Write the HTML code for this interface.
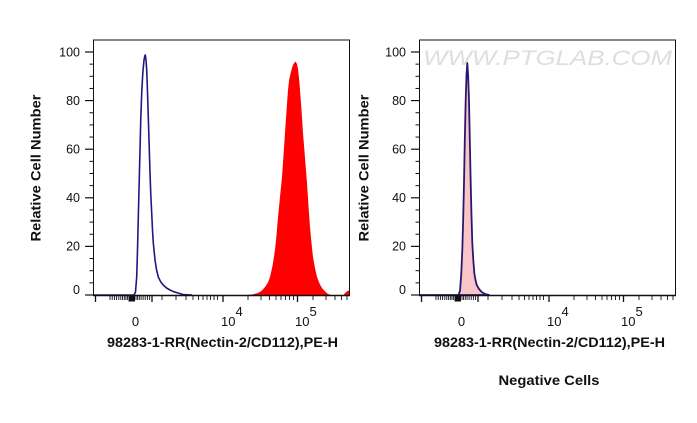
<!DOCTYPE html>
<html>
<head>
<meta charset="utf-8">
<style>
  html,body{margin:0;padding:0;background:#fff;}
  svg{display:block;}
  text{font-family:"Liberation Sans",Arial,sans-serif;fill:#111;}
  .tl{font-size:12.5px;}
  .xl{font-size:13px;}
  .ttl{font-size:14px;font-weight:bold;}
</style>
</head>
<body>
<svg width="697" height="423" viewBox="0 0 697 423" xmlns="http://www.w3.org/2000/svg">
  <rect x="0" y="0" width="697" height="423" fill="#fff"/>
  <defs>
    <g id="axes">
      <rect x="93.5" y="40" width="256" height="255.5" fill="none" stroke="#111" stroke-width="1"/>
      <line x1="93" y1="295.5" x2="350" y2="295.5" stroke="#111" stroke-width="1.6"/>
      <g stroke="#111" stroke-width="1.2">
        <line x1="85" y1="52" x2="93.5" y2="52"/>
        <line x1="85" y1="100.6" x2="93.5" y2="100.6"/>
        <line x1="85" y1="149.2" x2="93.5" y2="149.2"/>
        <line x1="85" y1="197.8" x2="93.5" y2="197.8"/>
        <line x1="85" y1="246.4" x2="93.5" y2="246.4"/>
        <line x1="85" y1="295" x2="93.5" y2="295"/>
      </g>
      <g stroke="#111" stroke-width="1">
        <line x1="89.5" y1="64.15" x2="93.5" y2="64.15"/>
        <line x1="89.5" y1="76.3" x2="93.5" y2="76.3"/>
        <line x1="89.5" y1="88.45" x2="93.5" y2="88.45"/>
        <line x1="89.5" y1="112.75" x2="93.5" y2="112.75"/>
        <line x1="89.5" y1="124.9" x2="93.5" y2="124.9"/>
        <line x1="89.5" y1="137.05" x2="93.5" y2="137.05"/>
        <line x1="89.5" y1="161.35" x2="93.5" y2="161.35"/>
        <line x1="89.5" y1="173.5" x2="93.5" y2="173.5"/>
        <line x1="89.5" y1="185.65" x2="93.5" y2="185.65"/>
        <line x1="89.5" y1="209.95" x2="93.5" y2="209.95"/>
        <line x1="89.5" y1="222.1" x2="93.5" y2="222.1"/>
        <line x1="89.5" y1="234.25" x2="93.5" y2="234.25"/>
        <line x1="89.5" y1="258.55" x2="93.5" y2="258.55"/>
        <line x1="89.5" y1="270.7" x2="93.5" y2="270.7"/>
        <line x1="89.5" y1="282.85" x2="93.5" y2="282.85"/>
      </g>
      <g stroke="#111" stroke-width="1.3">
        <line x1="95.5" y1="295" x2="95.5" y2="302"/>
        <line x1="152" y1="295" x2="152" y2="302"/>
        <line x1="223" y1="295" x2="223" y2="302"/>
        <line x1="297.5" y1="295" x2="297.5" y2="302"/>
      </g>
      <g stroke="#111" stroke-width="0.9">
        <line x1="110" y1="295" x2="110" y2="300"/>
        <line x1="112.2" y1="295" x2="112.2" y2="300"/>
        <line x1="114.4" y1="295" x2="114.4" y2="300"/>
        <line x1="116.6" y1="295" x2="116.6" y2="300"/>
        <line x1="118.8" y1="295" x2="118.8" y2="300"/>
        <line x1="120.8" y1="295" x2="120.8" y2="300"/>
        <line x1="122.6" y1="295" x2="122.6" y2="300"/>
        <line x1="124.3" y1="295" x2="124.3" y2="300"/>
        <line x1="125.9" y1="295" x2="125.9" y2="300"/>
        <line x1="127.4" y1="295" x2="127.4" y2="300"/>
        <line x1="136" y1="295" x2="136" y2="300"/>
        <line x1="137.6" y1="295" x2="137.6" y2="300"/>
        <line x1="139.3" y1="295" x2="139.3" y2="300"/>
        <line x1="141.1" y1="295" x2="141.1" y2="300"/>
        <line x1="143.1" y1="295" x2="143.1" y2="300"/>
        <line x1="145.2" y1="295" x2="145.2" y2="300"/>
        <line x1="147.4" y1="295" x2="147.4" y2="300"/>
        <line x1="149.6" y1="295" x2="149.6" y2="300"/>
        <line x1="162" y1="295" x2="162" y2="300"/>
        <line x1="176" y1="295" x2="176" y2="300"/>
        <line x1="186" y1="295" x2="186" y2="300"/>
        <line x1="193" y1="295" x2="193" y2="300"/>
        <line x1="198.5" y1="295" x2="198.5" y2="300"/>
        <line x1="203" y1="295" x2="203" y2="300"/>
        <line x1="207" y1="295" x2="207" y2="300"/>
        <line x1="210.5" y1="295" x2="210.5" y2="300"/>
        <line x1="214" y1="295" x2="214" y2="300"/>
        <line x1="217.5" y1="295" x2="217.5" y2="300"/>
        <line x1="248" y1="295" x2="248" y2="300"/>
        <line x1="261" y1="295" x2="261" y2="300"/>
        <line x1="269.5" y1="295" x2="269.5" y2="300"/>
        <line x1="276" y1="295" x2="276" y2="300"/>
        <line x1="281" y1="295" x2="281" y2="300"/>
        <line x1="285.5" y1="295" x2="285.5" y2="300"/>
        <line x1="289.5" y1="295" x2="289.5" y2="300"/>
        <line x1="293.5" y1="295" x2="293.5" y2="300"/>
        <line x1="313" y1="295" x2="313" y2="300"/>
        <line x1="326" y1="295" x2="326" y2="300"/>
        <line x1="335" y1="295" x2="335" y2="300"/>
        <line x1="341.5" y1="295" x2="341.5" y2="300"/>
        <line x1="347" y1="295" x2="347" y2="300"/>
      </g>
      <rect x="128.5" y="295" width="6.5" height="6.5" fill="#111"/>
    </g>
  </defs>

  <path d="M240,295.5 L252,294.5 L258,293 L262,290.5 L265,287 L268,282.5 L270,277 L272.5,266 L275,250 L276.5,235 L278,217 L280,197 L282,177 L283.5,155 L285,133 L286.5,111 L288,90 L289.3,79 L290.7,73 L292,68 L293,65 L294.5,62.5 L295.7,61.5 L297,64 L298,69 L299,78 L300,90 L301.5,110 L303,133 L305,158 L307,183 L308.5,206 L310,227 L311.5,243 L313,257 L315,268 L317,277 L319.5,283.5 L322,288 L325,291.5 L328,294 L333,295.5 L343,295.5 L345.5,292.5 L347.5,291 L349.5,290.5 L349.5,295.5 Z" fill="#ff0000"/>
  <polyline points="94,295 134,295 135.5,292 136.7,277 137.5,250 138.3,217 139.2,182 140,150 140.8,118 141.7,93 142.8,73 144,60 144.8,56 145.3,55 146,60 146.7,70 147.5,92 148.3,117 149.2,146 150,173 150.8,195 151.7,213 152.5,230 153.3,243 155,260 156.6,270 158.3,277 160.8,282 163.3,285 166.5,288 170,290 174,291.8 178,293 183,294.5 192,295" fill="none" stroke="#1c1a82" stroke-width="1.6" stroke-linejoin="round"/>
  <use href="#axes"/>

  <g class="tl" text-anchor="end">
    <text x="80" y="56.5">100</text>
    <text x="80" y="105">80</text>
    <text x="80" y="153.5">60</text>
    <text x="80" y="202">40</text>
    <text x="80" y="250.5">20</text>
    <text x="80" y="294">0</text>
  </g>
  <g class="xl">
    <text x="135.5" y="326" text-anchor="middle">0</text>
    <text x="221" y="326">10</text>
    <text x="235.5" y="316">4</text>
    <text x="295" y="326">10</text>
    <text x="309.5" y="316">5</text>
  </g>
  <text class="ttl" x="107" y="347" textLength="231" lengthAdjust="spacingAndGlyphs">98283-1-RR(Nectin-2/CD112),PE-H</text>
  <text class="ttl" transform="translate(40.5,168) rotate(-90)" text-anchor="middle" textLength="147" lengthAdjust="spacingAndGlyphs">Relative Cell Number</text>

  <text x="423" y="65" font-size="21" font-style="italic" textLength="249" lengthAdjust="spacingAndGlyphs" style="font-family:'Liberation Sans',Arial,sans-serif;fill:#dedede;">WWW.PTGLAB.COM</text>
  <path d="M420,295 L458.5,295 L460,291 L461.2,275 L462.3,250 L463.2,218 L464,183 L464.8,140 L465.7,100 L466.5,75 L467.3,63 L468.1,75 L469,100 L469.8,140 L470.7,183 L471.5,216 L472.3,243 L473.3,260 L474.3,273 L475.5,280 L476.7,285 L479,289 L481.7,292 L485,294 L489,295 Z" fill="#f9c5c8" stroke="#2a1870" stroke-width="1.8" stroke-linejoin="round"/>
  <use href="#axes" x="326"/>

  <g class="tl" text-anchor="end">
    <text x="406" y="56.5">100</text>
    <text x="406" y="105">80</text>
    <text x="406" y="153.5">60</text>
    <text x="406" y="202">40</text>
    <text x="406" y="250.5">20</text>
    <text x="406" y="294">0</text>
  </g>
  <g class="xl">
    <text x="461.5" y="326" text-anchor="middle">0</text>
    <text x="547" y="326">10</text>
    <text x="561.5" y="316">4</text>
    <text x="621" y="326">10</text>
    <text x="635.5" y="316">5</text>
  </g>
  <text class="ttl" x="434" y="347" textLength="231" lengthAdjust="spacingAndGlyphs">98283-1-RR(Nectin-2/CD112),PE-H</text>
  <text class="ttl" transform="translate(368.5,168) rotate(-90)" text-anchor="middle" textLength="147" lengthAdjust="spacingAndGlyphs">Relative Cell Number</text>
  <text class="ttl" x="549" y="385" text-anchor="middle" textLength="101" lengthAdjust="spacingAndGlyphs">Negative Cells</text>
</svg>
</body>
</html>
